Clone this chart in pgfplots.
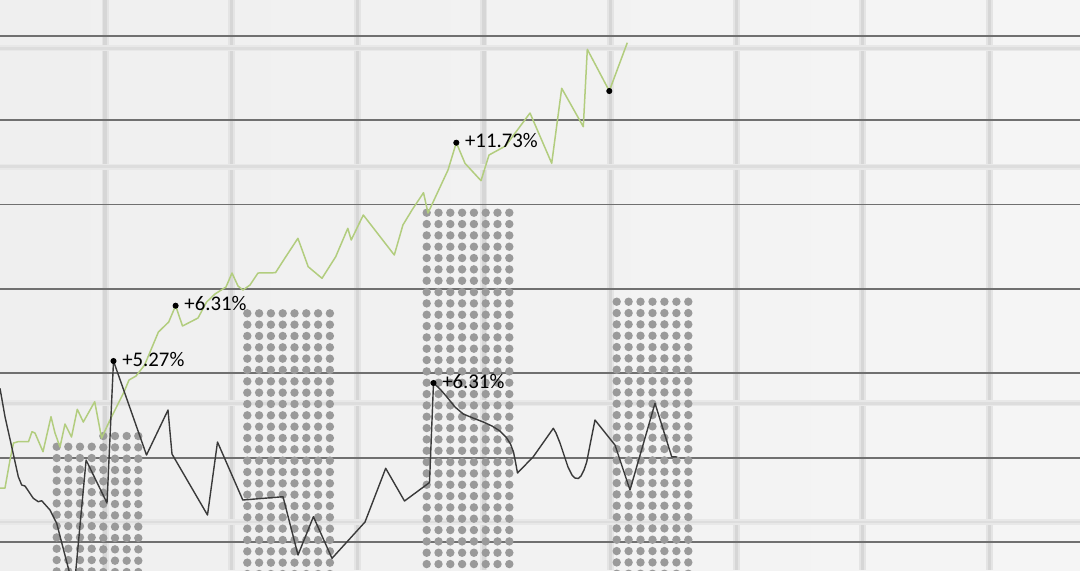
\documentclass[border=0pt]{standalone}
\usepackage{pgfplots}
\pgfplotsset{compat=1.18}
\usepackage{fontspec}
\setmainfont{Carlito}
\definecolor{bgA}{HTML}{EFEFEF}
\definecolor{bgB}{HTML}{F5F5F5}
\definecolor{gridcore}{HTML}{D6D6D6}
\definecolor{gridhalo}{HTML}{E4E4E4}
\definecolor{hgridcore}{HTML}{DDDDDD}
\definecolor{hgridhalo}{HTML}{E8E8E8}
\definecolor{darkline}{HTML}{707070}
\definecolor{dotcol}{HTML}{9A9A9A}
\definecolor{greenline}{HTML}{B2CD7E}
\definecolor{blackline}{HTML}{3A3A3A}
\begin{document}
\begin{tikzpicture}
\begin{axis}[
  width=540pt, height=285pt, scale only axis,
  xmin=0, xmax=1080, ymin=0, ymax=570, y dir=reverse,
  axis line style={draw=none},
  axis background/.style={left color=bgA, right color=bgB},
  xtick={105,231.3,357.6,483.9,610.2,736.5,862.8,989.1},
  ytick={35.7,120.1,204.5,288.9,373.3,457.7,542.1},
  extra y ticks={48.3,166.6,403.3,521.8},
  extra y tick labels={},
  extra y tick style={major tick length=0pt,
    major y grid style={draw=hgridcore, line width=1.3pt, preaction={draw=hgridhalo, line width=3pt}}},
  xticklabels={}, yticklabels={},
  major tick length=0pt,
  grid=major,
  major x grid style={draw=gridcore, line width=1.6pt, preaction={draw=gridhalo, line width=3.5pt}},
  major y grid style={draw=darkline, line width=0.9pt},
  clip=true,
  unbounded coords=jump,
]
% dotted bars (each column of dots drawn from the bar top down)
\addplot[dotcol, line width=4.2pt, line cap=round, dash pattern=on 0pt off 5.667pt, mark=none]
 coordinates {
 (56.7,446.7) (56.7,600) (56.7,nan)
 (68.3,446.7) (68.3,600) (68.3,nan)
 (80.0,446.7) (80.0,600) (80.0,nan)
 (91.7,446.7) (91.7,600) (91.7,nan)
 (103.3,436.0) (103.3,600) (103.3,nan)
 (115.0,436.0) (115.0,600) (115.0,nan)
 (126.7,436.0) (126.7,600) (126.7,nan)
 (138.3,436.0) (138.3,600)
 };
\addplot[dotcol, line width=4.2pt, line cap=round, dash pattern=on 0pt off 5.667pt, mark=none]
 coordinates {
 (247.3,313.3) (247.3,600) (247.3,nan)
 (259.1,313.3) (259.1,600) (259.1,nan)
 (270.9,313.3) (270.9,600) (270.9,nan)
 (282.7,313.3) (282.7,600) (282.7,nan)
 (294.5,313.3) (294.5,600) (294.5,nan)
 (306.3,313.3) (306.3,600) (306.3,nan)
 (318.1,313.3) (318.1,600) (318.1,nan)
 (329.9,313.3) (329.9,600)
 };
\addplot[dotcol, line width=4.2pt, line cap=round, dash pattern=on 0pt off 5.667pt, mark=none]
 coordinates {
 (426.7,212.7) (426.7,600) (426.7,nan)
 (438.5,212.7) (438.5,600) (438.5,nan)
 (450.3,212.7) (450.3,600) (450.3,nan)
 (462.1,212.7) (462.1,600) (462.1,nan)
 (473.9,212.7) (473.9,600) (473.9,nan)
 (485.7,212.7) (485.7,600) (485.7,nan)
 (497.5,212.7) (497.5,600) (497.5,nan)
 (509.3,212.7) (509.3,600)
 };
\addplot[dotcol, line width=4.2pt, line cap=round, dash pattern=on 0pt off 5.667pt, mark=none]
 coordinates {
 (616.7,301.7) (616.7,600) (616.7,nan)
 (628.6,301.7) (628.6,600) (628.6,nan)
 (640.5,301.7) (640.5,600) (640.5,nan)
 (652.5,301.7) (652.5,600) (652.5,nan)
 (664.4,301.7) (664.4,600) (664.4,nan)
 (676.4,301.7) (676.4,600) (676.4,nan)
 (688.3,301.7) (688.3,600)
 };
% green line
\addplot[greenline, line width=0.75pt, mark=none, line join=round] coordinates {
 (0,488) (5,488) (10,460) (13.5,443) (18,441.7) (28.5,441.7) (32,431.7) (35,433)
 (43,451.7) (51,416.7) (55,433) (60,447) (65,424) (71.5,437) (77.3,409.3) (83.3,422)
 (94.7,401.7) (101.6,438) (110,420) (118,404) (124,392) (129,380) (136,376) (144.6,365)
 (158.4,332) (168.7,322) (175.6,305.7) (182.5,326) (198,318) (206.6,302) (215,294)
 (226,287) (232,273) (238,286) (243,290) (250,285) (258,273) (275.5,272.7) (285.8,256.7)
 (297.9,238.3) (308.2,266.7) (322,278.3) (335.7,256.7) (347.8,228.3) (351.2,240)
 (363.3,215) (394.3,255) (402.9,225) (412,210) (423.5,192.7) (428,213) (448,170)
 (456.3,142.7) (465,163.3) (481,180.7) (489,155) (505.5,146) (530,113) (551.7,163.3)
 (561.7,88.3) (583.3,126.7) (587.3,49.3) (609.3,91) (627.3,42.7)
};
% black line
\addplot[blackline, line width=0.7pt, mark=none, line join=round] coordinates {
 (0,388.3) (5,416.7) (11.7,446.7) (18.3,476.7) (21.7,485) (25,486) (33.3,498.3)
 (38.3,501.7) (41.7,500.7) (50,510) (56.7,523.3) (74,590) (86.1,460) (107,503)
 (113.5,361) (146.5,455) (168,410) (172,454) (207.5,515) (217.5,442) (242.8,500)
 (283,496.7) (298,555) (313.4,516.7) (332,558.3) (365,522) (385.7,468.3) (404.5,501)
 (429.5,482.5) (433.5,383) (440,389) (446.7,396.7) (455,407) (463.3,414) (473,418)
 (483.3,422) (492,426) (500,431) (506,437) (510.5,444) (513.5,452) (515.5,462)
 (517.5,473) (533.3,456.7) (553.3,428.3) (556,433) (560,443) (564,455) (568,467)
 (572,475) (575,478) (578.3,478.5) (581,476) (584,470) (586.7,462) (590,445)
 (595,420) (615,445) (630,490) (655,403.3) (671.7,456.7) (677,457)
};
% highlighted points with labels
\addplot[only marks, mark=*, mark size=1.3pt, black,
  point meta=explicit symbolic,
  nodes near coords,
  nodes near coords style={anchor=base west, xshift=4.2pt, yshift=-2.6pt, text=black,
    font=\fontsize{10.4pt}{12pt}\selectfont, inner sep=0pt}]
 coordinates {
 (113.5,361) [+5.27\%]
 (175.6,305.7) [+6.31\%]
 (456.3,142.7) [+11.73\%]
 (433.5,383) [+6.31\%]
 (609.3,91) []
 };
\end{axis}
\pgfresetboundingbox
\path[use as bounding box] (current axis.south west) rectangle (current axis.north east);
\end{tikzpicture}
\end{document}
